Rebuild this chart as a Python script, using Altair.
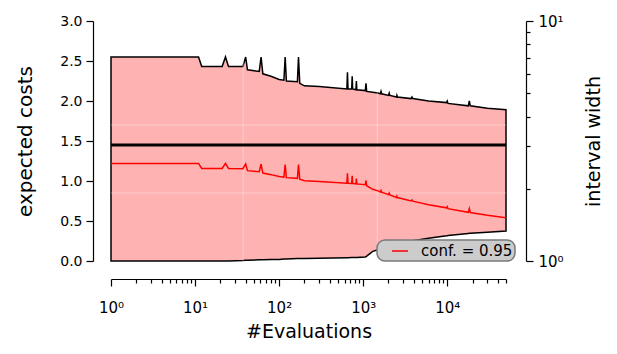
import altair as alt
import pandas as pd

# ---- data ----
evals = [1, 11, 12, 21, 23, 25, 37, 40, 42, 58, 61, 64, 80, 100, 114, 118, 122,
         165, 170, 176, 200, 300, 640, 650, 660, 730, 740, 750, 820, 830, 840,
         1060, 1080, 1100, 1300, 1500, 1600, 1630, 1660, 2000, 2040, 2080,
         2500, 2520, 2560, 3700, 3800, 3900, 6000, 9800, 10000, 10200,
         17800, 18300, 18800, 30000, 50000]
upper = [2.55, 2.55, 2.43, 2.43, 2.55, 2.43, 2.43, 2.55, 2.39, 2.37, 2.55, 2.34, 2.31, 2.27, 2.26, 2.55, 2.25,
         2.24, 2.55, 2.22, 2.19, 2.18, 2.15, 2.36, 2.15, 2.15, 2.31, 2.15, 2.14, 2.25, 2.14,
         2.13, 2.22, 2.12, 2.11, 2.10, 2.09, 2.12, 2.09, 2.07, 2.10, 2.07,
         2.05, 2.07, 2.05, 2.03, 2.05, 2.03, 2.00, 1.98, 2.00, 1.97,
         1.94, 2.00, 1.94, 1.91, 1.89]
lower = [0.0, 0.0, 0.0, 0.0, 0.0, 0.0, 0.005, 0.01, 0.01, 0.015, 0.015, 0.015, 0.02, 0.02, 0.025, 0.025, 0.025,
         0.03, 0.03, 0.03, 0.03, 0.035, 0.04, 0.04, 0.04, 0.045, 0.045, 0.045, 0.045, 0.045, 0.045,
         0.05, 0.055, 0.06, 0.12, 0.14, 0.15, 0.153, 0.156, 0.18, 0.182, 0.185,
         0.21, 0.21, 0.212, 0.25, 0.252, 0.254, 0.285, 0.315, 0.317, 0.318,
         0.345, 0.346, 0.347, 0.36, 0.375]
mean_x = [1, 50000]
mean_y = [1.45, 1.45]
grid_x = [37.3, 1470]
grid_y = [0.85, 1.70]
legend_label = "conf. = 0.95"
x_ticks = [m * 10 ** e for e in range(5) for m in range(1, 10) if m * 10 ** e <= 50000]
y_ticks = [0.0, 0.5, 1.0, 1.5, 2.0, 2.5, 3.0]
r_ticks = [1, 2, 3, 4, 5, 6, 7, 8, 9, 10]

df = pd.DataFrame({"x": evals, "upper": upper, "lower": lower})
df["series"] = legend_label
mean_df = pd.DataFrame({"x": mean_x, "y": mean_y})
gx_df = pd.DataFrame({"x": grid_x})
gy_df = pd.DataFrame({"y": grid_y})

FONT = "DejaVu Sans"
sup = {1: "10⁰", 10: "10¹", 100: "10²", 1000: "10³", 10000: "10⁴"}
label_expr = " : ".join(f"datum.value == {k} ? '{v}'" for k, v in sup.items()) + " : ''"

xscale = alt.Scale(type="log", domain=[1, 50000], nice=False)
yscale = alt.Scale(domain=[0, 3], nice=False, zero=False)

major_test = "abs(log(datum.value)/LN10 - round(log(datum.value)/LN10)) < 0.001"

x_axis = alt.Axis(values=x_ticks, labelExpr=label_expr, offset=18,
                  tickSize={"condition": {"test": major_test, "value": 7}, "value": 4},
                  labelPadding=14, labelOverlap=False, labelFlush=False, grid=False,
                  title="#Evaluations", titlePadding=7, labelFontSize=15, titleFontSize=19)
y_axis = alt.Axis(values=y_ticks, format=".1f", offset=18, tickSize=7, labelPadding=4,
                  grid=False, title="expected costs", titlePadding=24)
r_axis = alt.Axis(orient="right", values=r_ticks, offset=20,
                  labelExpr="datum.value == 1 ? '10⁰' : datum.value == 10 ? '10¹' : ''",
                  tickSize={"condition": {"test": major_test, "value": 7}, "value": 4},
                  labelPadding=5, labelOverlap=False, labelFlush=False, grid=False,
                  title="interval width", titleAngle=270, titlePadding=40, labelFontSize=15,
                  titleFontSize=19)

X = alt.X("x:Q", scale=xscale, axis=x_axis)

area = alt.Chart(df).mark_area(fill="red", fillOpacity=0.3, stroke="black",
                               strokeWidth=1.5).encode(
    x=X,
    y=alt.Y("upper:Q", scale=yscale, axis=y_axis),
    y2="lower:Q",
)
gv = alt.Chart(gx_df).mark_rule(color="white", opacity=0.35, strokeWidth=1).encode(x=X)
gh = alt.Chart(gy_df).mark_rule(color="white", opacity=0.35, strokeWidth=1).encode(
    y=alt.Y("y:Q", scale=yscale, axis=y_axis))
mean = alt.Chart(mean_df).mark_line(color="black", strokeWidth=3).encode(
    x=X,
    y=alt.Y("y:Q", scale=yscale, axis=y_axis),
)
left = alt.layer(area, gv, gh, mean)

red = alt.Chart(df).transform_calculate(
    width="datum.upper - datum.lower"
).mark_line(strokeWidth=1.5).encode(
    x=X,
    y=alt.Y("width:Q", scale=alt.Scale(type="log", domain=[1, 10], nice=False), axis=r_axis),
    color=alt.Color("series:N", scale=alt.Scale(domain=[legend_label], range=["red"]),
                    legend=alt.Legend(title=None, orient="none", legendX=266, legendY=219,
                                      symbolType="stroke", symbolSize=256, symbolStrokeWidth=1.5,
                                      symbolOffset=12, labelOffset=12, padding=2,
                                      labelFontSize=15, labelFont=FONT, labelColor="black",
                                      fillColor="#cccccc", strokeColor="#7a7a7a",
                                      cornerRadius=8)),
)

chart = alt.layer(left, red).resolve_scale(y="independent").properties(
    width=395, height=240,
    autosize=alt.AutoSizeParams(type="none"),
    padding={"left": 103, "top": 13, "right": 103, "bottom": 85},
).configure_view(stroke=None).configure_axis(
    labelFont=FONT, titleFont=FONT, labelFontSize=14, titleFontSize=20,
    titleFontWeight="normal", labelColor="black", titleColor="black",
    domainColor="black", tickColor="black", domainWidth=1.2, tickWidth=1.2,
).configure_legend(strokeWidth=1.5)

chart.save("out.html", embed_options={"renderer": "svg", "actions": False})
